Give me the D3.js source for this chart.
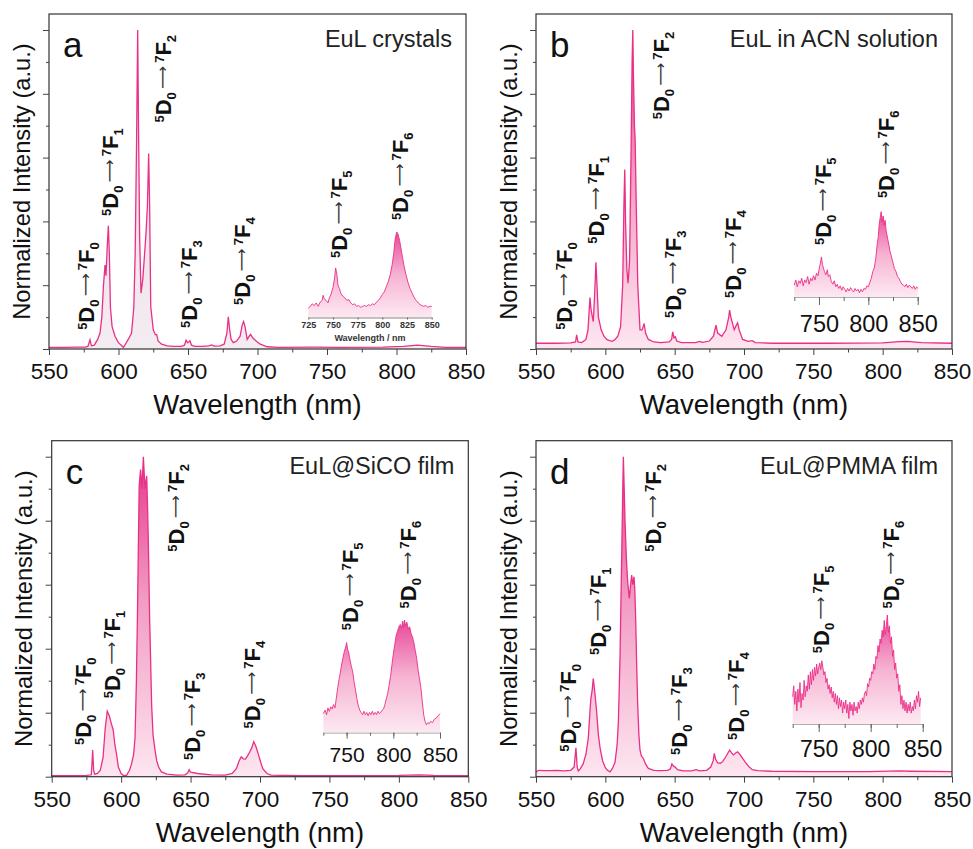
<!DOCTYPE html>
<html>
<head>
<meta charset="utf-8">
<title>EuL emission spectra</title>
<script src="https://d3js.org/d3.v7.min.js"></script>
<style>
  body { margin: 0; background: #fff; }
  svg { font-family: "Liberation Sans", Arial, sans-serif; }
</style>
</head>
<body>
<svg width="973" height="849"></svg>
<script>
// ---- data: [wavelength nm, normalized intensity] ----
const specCrystal = [[550,0.005],[560,0.005],[570,0.006],[576,0.006],[578,0.008],[579.5,0.029],[580.5,0.01],[582.6,0.012],[585,0.03],[586.7,0.05],[588,0.1],[589.2,0.2],[590.3,0.263],[591,0.23],[592,0.33],[592.7,0.386],[593.4,0.3],[594.2,0.13],[595.4,0.07],[597.5,0.04],[599.9,0.02],[602.4,0.01],[603.5,0.005],[605,0.015],[607,0.03],[609.4,0.05],[611,0.13],[612,0.3],[613,0.65],[613.8,1.0],[614.4,0.7],[615.2,0.35],[616.2,0.175],[617.5,0.22],[618.8,0.3],[619.8,0.364],[620.8,0.45],[621.7,0.613],[622.4,0.45],[623.2,0.133],[625,0.06],[626.5,0.045],[627.5,0.045],[628.5,0.025],[631,0.015],[635,0.01],[640,0.008],[645,0.008],[647.5,0.012],[648.6,0.028],[649.6,0.02],[650.6,0.022],[651.4,0.026],[652.5,0.012],[655,0.008],[660,0.008],[665,0.01],[667,0.013],[669,0.009],[673,0.01],[676,0.015],[678,0.05],[679,0.101],[680,0.06],[681,0.03],[682.6,0.02],[685,0.025],[687.5,0.04],[689,0.075],[690,0.086],[691,0.07],[692.6,0.03],[694,0.04],[695.1,0.046],[696.5,0.035],[699,0.025],[702,0.015],[707,0.007],[715,0.005],[740,0.006],[760,0.005],[790,0.006],[805,0.008],[815,0.012],[825,0.008],[835,0.005],[850,0.005]];
const specSolution = [[550,0.018],[565,0.018],[575,0.019],[578.5,0.022],[579.3,0.044],[580.2,0.022],[583,0.02],[586,0.03],[587.5,0.06],[588.9,0.161],[589.8,0.12],[591.3,0.086],[592.3,0.17],[593.2,0.272],[594,0.2],[595,0.1],[597,0.06],[599,0.04],[601,0.03],[603,0.026],[605,0.024],[607,0.03],[609,0.04],[611,0.07],[612.5,0.2],[613.4,0.45],[614,0.563],[614.6,0.4],[615.5,0.25],[616.4,0.206],[617.5,0.28],[618.5,0.6],[619.3,0.9],[619.8,1.0],[620.3,0.85],[621,0.7],[621.5,0.655],[622.3,0.45],[623.4,0.2],[625,0.06],[626.5,0.06],[628,0.08],[629,0.05],[631,0.03],[635,0.022],[640,0.02],[646,0.022],[647.8,0.03],[648.6,0.054],[649.5,0.035],[650.5,0.038],[651.5,0.025],[655,0.02],[665,0.02],[668,0.024],[670,0.021],[675,0.025],[678,0.04],[679.8,0.075],[681,0.05],[684,0.04],[687,0.06],[689,0.1],[689.6,0.122],[690.5,0.1],[693,0.06],[694.5,0.075],[695.4,0.082],[696.5,0.06],[699,0.03],[703,0.024],[706,0.026],[708,0.02],[720,0.018],[760,0.018],[800,0.019],[812,0.023],[818,0.024],[828,0.02],[850,0.018]];
const specSiCO = [[550,0.003],[575,0.004],[578.5,0.006],[579,0.04],[579.5,0.083],[580.2,0.02],[581,0.008],[583,0.01],[585,0.02],[587,0.06],[588.5,0.15],[590,0.205],[591.5,0.19],[593,0.165],[594.3,0.146],[595.5,0.1],[596.7,0.07],[598,0.03],[600,0.01],[602,0.003],[604,0.005],[606,0.02],[607.5,0.04],[609,0.07],[610,0.12],[611,0.3],[611.7,0.49],[612.5,0.75],[613,0.91],[614,0.96],[615,0.9],[616,1.0],[617.2,0.9],[618.4,0.94],[619,0.85],[619.6,0.73],[620.5,0.5],[621.3,0.35],[622,0.22],[623,0.13],[624.5,0.08],[625.6,0.05],[627,0.03],[629,0.015],[633,0.008],[640,0.005],[646,0.006],[648,0.012],[649,0.022],[650,0.014],[655,0.01],[665,0.006],[675,0.005],[680,0.01],[683,0.025],[685,0.05],[686.5,0.062],[688,0.056],[689.5,0.055],[691,0.065],[692.6,0.077],[694,0.09],[695.5,0.109],[697,0.095],[698.6,0.073],[700.5,0.045],[702,0.025],[705,0.01],[708,0.005],[730,0.003],[800,0.004],[815,0.006],[825,0.004],[850,0.003]];
const specPMMA = [[550,0.015],[552,0.02],[556,0.019],[560,0.019],[565,0.02],[570,0.018],[575,0.02],[577.5,0.03],[578.8,0.09],[579.7,0.03],[580.5,0.018],[582,0.025],[584,0.04],[586,0.07],[587.7,0.12],[589,0.21],[589.6,0.245],[590.5,0.27],[591.3,0.307],[592.5,0.26],[593.8,0.2],[595,0.13],[596.2,0.09],[598,0.05],[599.8,0.03],[601.5,0.02],[603.4,0.015],[605,0.025],[607,0.045],[608.5,0.1],[609.4,0.17],[610.6,0.375],[611.8,0.69],[612.5,0.88],[613,1.0],[613.6,0.9],[614.2,0.8],[615.2,0.68],[616.1,0.61],[617.3,0.557],[618.2,0.6],[619,0.63],[619.8,0.6],[620.7,0.625],[621.3,0.58],[621.9,0.49],[622.6,0.35],[623.3,0.23],[624.2,0.13],[625,0.084],[626,0.065],[627.4,0.057],[629,0.04],[631,0.026],[635,0.02],[640,0.019],[645,0.02],[647,0.025],[648,0.04],[649.3,0.032],[650.4,0.03],[652,0.022],[656,0.018],[662,0.018],[665.5,0.022],[668,0.018],[673,0.02],[676,0.03],[677.8,0.05],[678.6,0.073],[679.5,0.055],[681,0.043],[683,0.042],[684.6,0.047],[687,0.063],[688.5,0.075],[689.6,0.083],[691,0.075],[692.3,0.068],[694,0.074],[695.4,0.078],[697,0.07],[699,0.057],[701,0.045],[703.8,0.03],[706,0.022],[709.8,0.019],[720,0.017],[750,0.016],[790,0.016],[812,0.018],[820,0.017],[850,0.016]];

// insets, 725-850 nm, scaled to own maximum
const insetCrystal = [[725,0.11],[727,0.13],[729,0.16],[731,0.14],[733,0.17],[735,0.13],[737,0.18],[739,0.2],[740,0.26],[741,0.22],[743,0.2],[745,0.17],[746,0.22],[748,0.27],[750,0.35],[751.5,0.45],[752.7,0.58],[754,0.5],[755,0.38],[756.5,0.34],[758,0.28],[760,0.25],[762,0.23],[764,0.2],[766,0.21],[768,0.17],[770,0.15],[772,0.16],[774,0.13],[776,0.14],[778,0.12],[780,0.13],[782,0.14],[784,0.13],[786,0.15],[788,0.14],[790,0.16],[792,0.15],[794,0.18],[796,0.2],[798,0.23],[800,0.27],[802,0.3],[804,0.36],[806,0.42],[808,0.5],[810,0.62],[811.5,0.75],[813,0.92],[814.6,1.0],[816,0.97],[817.5,0.9],[819,0.8],[820.5,0.7],[822,0.6],[824,0.5],[826,0.41],[828,0.34],[830,0.29],[832,0.24],[834,0.2],[836,0.18],[838,0.15],[840,0.14],[842,0.13],[844,0.14],[846,0.12],[848,0.13],[850,0.13]];
const insetSolution = [[725,0.14],[726.5,0.2],[728,0.12],[729.5,0.19],[731,0.16],[732.5,0.22],[734,0.13],[735.5,0.2],[737,0.17],[738.5,0.24],[740,0.15],[741.5,0.22],[743,0.19],[744.5,0.25],[746,0.2],[747.5,0.28],[749,0.25],[750.5,0.35],[751.5,0.4],[752.5,0.47],[753.5,0.38],[754.5,0.34],[755.5,0.3],[757,0.26],[758.5,0.32],[759.5,0.24],[761,0.26],[762.5,0.18],[764,0.15],[765.5,0.19],[767,0.12],[768.5,0.15],[770,0.1],[771.5,0.13],[773,0.08],[774.5,0.12],[776,0.09],[777.5,0.06],[779,0.1],[780.5,0.07],[782,0.11],[783.5,0.08],[785,0.06],[786.5,0.1],[788,0.07],[789.5,0.09],[791,0.05],[792.5,0.09],[794,0.06],[795.5,0.1],[797,0.09],[798.5,0.13],[800,0.12],[801.5,0.17],[803,0.22],[804.5,0.3],[806,0.34],[807.5,0.45],[809,0.62],[810,0.7],[811,0.85],[812,0.93],[813,1.0],[814,0.88],[815,0.95],[816,0.84],[817,0.9],[818,0.78],[819,0.72],[820,0.66],[821,0.6],[822,0.53],[823.5,0.47],[825,0.4],[826.5,0.33],[828,0.3],[829.5,0.24],[831,0.22],[832.5,0.18],[834,0.15],[835.5,0.14],[837,0.12],[838.5,0.15],[840,0.11],[841.5,0.14],[843,0.12],[844.5,0.1],[846,0.13],[847.5,0.09],[849,0.12],[850,0.1]];
const insetSiCO = [[725,0.17],[727,0.2],[728.5,0.16],[730,0.22],[731.5,0.19],[733,0.23],[734.5,0.21],[736,0.25],[737.5,0.22],[739,0.31],[740.5,0.4],[742,0.48],[743,0.52],[744.5,0.6],[746,0.66],[747.5,0.72],[749,0.76],[750,0.8],[751,0.74],[752,0.72],[753.5,0.65],[755,0.59],[756.5,0.54],[758,0.45],[759.5,0.38],[761,0.3],[762.5,0.24],[764,0.2],[765.5,0.18],[767,0.16],[768.5,0.19],[770,0.16],[771.5,0.18],[773,0.15],[774.5,0.18],[776,0.16],[777.5,0.19],[779,0.16],[780.5,0.18],[782,0.16],[783.5,0.19],[785,0.17],[786.5,0.18],[788,0.2],[789.5,0.21],[791,0.25],[792.5,0.3],[794,0.35],[795.5,0.42],[797,0.5],[798.5,0.6],[800,0.7],[801.5,0.78],[803,0.86],[804.5,0.9],[806,0.94],[807.5,0.96],[809,0.93],[810,0.99],[811,0.94],[812,1.0],[813,0.95],[814.5,0.98],[816,0.92],[817.5,0.94],[819,0.88],[820.5,0.85],[822,0.8],[823.5,0.73],[825,0.66],[826.5,0.56],[828,0.48],[829.5,0.4],[831,0.28],[832.5,0.16],[834,0.1],[835.5,0.07],[837,0.09],[838.5,0.08],[840,0.1],[842,0.09],[844,0.12],[846,0.13],[848,0.15],[850,0.17]];
const insetPMMA = [[725,0.25],[726,0.35],[727,0.18],[728,0.3],[729,0.12],[730,0.32],[731,0.2],[732,0.38],[733,0.15],[734,0.28],[735,0.22],[736,0.4],[737,0.25],[738,0.35],[739,0.3],[740,0.45],[741,0.32],[742,0.48],[743,0.36],[744,0.5],[745,0.4],[746,0.52],[747,0.44],[748,0.55],[749,0.46],[750,0.52],[751,0.56],[752,0.5],[753,0.58],[754,0.52],[755,0.45],[756,0.48],[757,0.38],[758,0.42],[759,0.32],[760,0.36],[761,0.28],[762,0.34],[763,0.24],[764,0.3],[765,0.2],[766,0.28],[767,0.18],[768,0.26],[769,0.14],[770,0.24],[771,0.16],[772,0.22],[773,0.1],[774,0.2],[775,0.14],[776,0.22],[777,0.1],[778,0.18],[779,0.05],[780,0.2],[781,0.12],[782,0.18],[783,0.08],[784,0.2],[785,0.12],[786,0.16],[787,0.1],[788,0.2],[789,0.14],[790,0.22],[791,0.18],[792,0.24],[793,0.2],[794,0.28],[795,0.3],[796,0.26],[797,0.37],[798,0.34],[799,0.42],[800,0.4],[801,0.48],[802,0.46],[803,0.55],[804,0.5],[805,0.62],[806,0.6],[807,0.72],[808,0.66],[809,0.78],[810,0.74],[811,0.86],[812,0.8],[813,0.95],[814,0.82],[815,0.9],[816,1.0],[817,0.84],[818,0.9],[819,0.74],[820,0.8],[821,0.62],[822,0.68],[823,0.5],[824,0.56],[825,0.42],[826,0.46],[827,0.3],[828,0.36],[829,0.18],[830,0.26],[831,0.14],[832,0.22],[833,0.12],[834,0.2],[835,0.1],[836,0.18],[837,0.12],[838,0.2],[839,0.1],[840,0.16],[841,0.12],[842,0.22],[843,0.14],[844,0.26],[845,0.2],[846,0.3],[847,0.16],[848,0.24]];

// transition labels 5D0 -> 7FJ: [wavelength, intensity at label start]
const transitions = ["0", "1", "2", "3", "4", "5", "6"];
const labelsCrystal = [[576.6,0.06],[594,0.417],[632,0.71],[651,0.066],[689,0.138],[758.6,0.285],[802.5,0.404]];
const labelsSolution = [[570.4,0.06],[593.3,0.33],[640,0.72],[648.6,0.097],[691.8,0.16],[756.7,0.326],[802.3,0.473]];
const labelsSiCO = [[572.8,0.099],[593.2,0.245],[639.3,0.703],[650.8,0.052],[694,0.151],[764.8,0.458],[806.7,0.526]];
const labelsPMMA = [[572.8,0.078],[594.5,0.38],[634.1,0.703],[653.3,0.068],[694.2,0.115],[755.5,0.386],[806,0.526]];

const xTicks = [550, 600, 650, 700, 750, 800, 850];
const insetTicks = [725, 750, 775, 800, 825, 850];
const insetLabelTicks = [750, 800, 850];

const pink = "#ea2f86";
const svg = d3.select("svg");
const defs = svg.append("defs");

const panels = [
  { key: "a", title: "EuL crystals", spec: specCrystal, inset: insetCrystal, labels: labelsCrystal,
    box: [49, 466, 14, 349], unit: 319, flat: true,
    ins: { x0: 308.3, x1: 431.7, y0: 317.5, top: 232, small: true } },
  { key: "b", title: "EuL in ACN solution", spec: specSolution, inset: insetSolution, labels: labelsSolution,
    box: [536, 952, 14, 349], unit: 319,
    ins: { x0: 794.3, x1: 917.7, y0: 297, top: 211.7, font: 23.5, tick: 8, pad: 10 } },
  { key: "c", title: "EuL@SiCO film", spec: specSiCO, inset: insetSiCO, labels: labelsSiCO,
    box: [51.7, 468.3, 440.7, 776.7], unit: 320,
    ins: { x0: 323.3, x1: 440, y0: 732.7, top: 620, font: 21, tick: 6, pad: 8 } },
  { key: "d", title: "EuL@PMMA film", spec: specPMMA, inset: insetPMMA, labels: labelsPMMA,
    box: [536, 952, 440.7, 776.7], unit: 320,
    ins: { x0: 792.7, x1: 922.7, y0: 724, top: 615, font: 23, tick: 8, pad: 9 } }
];

function gradient(id, yTop, yBot, stops) {
  const g = defs.append("linearGradient").attr("id", id)
    .attr("gradientUnits", "userSpaceOnUse")
    .attr("x1", 0).attr("x2", 0).attr("y1", yTop).attr("y2", yBot);
  stops.forEach(s => g.append("stop").attr("offset", s[0]).attr("stop-color", s[1]));
}

function addLabel(g, x, y, n) {
  const t = g.append("text")
    .attr("transform", `translate(${x},${y}) rotate(-90)`)
    .attr("fill", "#111").attr("font-weight", "bold");
  t.append("tspan").attr("font-size", 13).attr("dy", -7).text("5");
  t.append("tspan").attr("font-size", 22).attr("dy", 7).text("D");
  t.append("tspan").attr("font-size", 13).attr("dy", 5).text("0");
  // long thin arrow, centred on the capitals
  t.append("tspan").attr("font-size", 16).attr("font-weight", "normal").attr("fill", "#333")
    .style("font-family", "'DejaVu Sans', sans-serif")
    .attr("dy", -8).text("\u2009\u27F6\u2009");
  t.append("tspan").attr("font-size", 13).attr("dy", -4).text("7");
  t.append("tspan").attr("font-size", 22).attr("dy", 7).text("F");
  t.append("tspan").attr("font-size", 13).attr("dy", 5).text(n);
}

panels.forEach(p => {
  const [x0, x1, y0, y1] = p.box;
  const x = d3.scaleLinear().domain([550, 850]).range([x0, x1]);
  const y = d3.scaleLinear().domain([0, 1]).range([y1, y1 - p.unit]);
  const g = svg.append("g");

  // spectrum fill + line
  gradient("g" + p.key, y(1), y(0), p.flat
    ? [[0, "#eadbe3"], [1, "#f3ecf0"]]
    : [[0, "#e6398a"], [0.45, "#f29cc3"], [1, "#fde6f0"]]);
  const area = d3.area().x(d => x(d[0])).y0(y(0)).y1(d => y(d[1]));
  const line = d3.line().x(d => x(d[0])).y(d => y(d[1]));
  g.append("path").datum(p.spec).attr("d", area).attr("fill", `url(#g${p.key})`);
  g.append("path").datum(p.spec).attr("d", line)
    .attr("fill", "none").attr("stroke", pink).attr("stroke-width", 1.3);

  // frame
  g.append("rect").attr("x", x0).attr("y", y0).attr("width", x1 - x0).attr("height", y1 - y0)
    .attr("fill", "none").attr("stroke", "#333").attr("stroke-width", 1.2);

  // x axis
  const xa = g.append("g").attr("transform", `translate(0,${y1})`)
    .call(d3.axisBottom(x).tickValues(xTicks).tickSize(6).tickPadding(8).tickSizeOuter(0));
  xa.select(".domain").remove();
  xa.selectAll("text").attr("font-size", 22.5).attr("fill", "#111")
    .style("font-family", "'Liberation Sans', Arial, sans-serif");
  xa.selectAll("line").attr("stroke", "#444");
  const xm = g.append("g").attr("transform", `translate(0,${y1})`)
    .call(d3.axisBottom(x).tickValues(d3.range(575, 850, 50)).tickSize(3.5).tickFormat(""));
  xm.select(".domain").remove();
  xm.selectAll("line").attr("stroke", "#444");

  // y axis (no labels)
  const ya = g.append("g").attr("transform", `translate(${x0},0)`)
    .call(d3.axisLeft(y).tickValues([0, 0.2, 0.4, 0.6, 0.8, 1.0]).tickSize(6).tickFormat(""));
  ya.select(".domain").remove();
  ya.selectAll("line").attr("stroke", "#444");
  const ym = g.append("g").attr("transform", `translate(${x0},0)`)
    .call(d3.axisLeft(y).tickValues([0.1, 0.3, 0.5, 0.7, 0.9]).tickSize(3).tickFormat(""));
  ym.select(".domain").remove();
  ym.selectAll("line").attr("stroke", "#444");

  // axis titles
  g.append("text").attr("x", (x0 + x1) / 2).attr("y", y1 + 65)
    .attr("text-anchor", "middle").attr("font-size", 27.5).attr("fill", "#111")
    .text("Wavelength (nm)");
  g.append("text").attr("transform", `translate(${x0 - 19.5},${(y0 + y1) / 2}) rotate(-90)`)
    .attr("text-anchor", "middle").attr("font-size", 23.7).attr("fill", "#111")
    .text("Normalized Intensity (a.u.)");

  // panel letter and title
  g.append("text").attr("x", x0 + 14).attr("y", y0 + 43).attr("font-size", 35).attr("fill", "#111")
    .text(p.key);
  g.append("text").attr("x", x1 - 14).attr("y", y0 + 33).attr("text-anchor", "end")
    .attr("font-size", 23.5).attr("fill", "#222").text(p.title);

  // inset
  const q = p.ins;
  const ix = d3.scaleLinear().domain([725, 850]).range([q.x0, q.x1]);
  const iy = d3.scaleLinear().domain([0, 1]).range([q.y0, q.top]);
  gradient("i" + p.key, q.top, q.y0, [[0, "#e8489a"], [0.5, "#f6b3d2"], [1, "#fde9f2"]]);
  g.append("path").datum(p.inset)
    .attr("d", d3.area().x(d => ix(d[0])).y0(iy(0)).y1(d => iy(d[1])))
    .attr("fill", `url(#i${p.key})`);
  g.append("path").datum(p.inset)
    .attr("d", d3.line().x(d => ix(d[0])).y(d => iy(d[1])))
    .attr("fill", "none").attr("stroke", pink).attr("stroke-width", 0.9);

  if (q.small) {
    const ia = g.append("g").attr("transform", `translate(0,${q.y0})`)
      .call(d3.axisBottom(ix).tickValues(insetTicks).tickSize(2).tickPadding(2).tickSizeOuter(0));
    ia.select(".domain").attr("stroke", "#888");
    ia.selectAll("line").attr("stroke", "#666");
    ia.selectAll("text").attr("font-size", 9).attr("font-weight", "bold").attr("fill", "#333")
      .style("font-family", "'Liberation Sans', Arial, sans-serif");
    g.append("text").attr("x", (q.x0 + q.x1) / 2).attr("y", q.y0 + 23)
      .attr("text-anchor", "middle").attr("font-size", 9).attr("font-weight", "bold")
      .attr("fill", "#333").text("Wavelength / nm");
  } else {
    const im = g.append("g").attr("transform", `translate(0,${q.y0})`)
      .call(d3.axisBottom(ix).tickValues(insetTicks).tickSize(q.tick / 2).tickFormat("").tickSizeOuter(0));
    im.select(".domain").attr("stroke", "#999").attr("stroke-width", 0.8);
    im.selectAll("line").attr("stroke", "#666");
    const ia = g.append("g").attr("transform", `translate(0,${q.y0})`)
      .call(d3.axisBottom(ix).tickValues(insetLabelTicks).tickSize(q.tick).tickPadding(q.pad));
    ia.select(".domain").remove();
    ia.selectAll("line").attr("stroke", "#666");
    ia.selectAll("text").attr("font-size", q.font).attr("fill", "#111")
      .style("font-family", "'Liberation Sans', Arial, sans-serif");
  }

  // transition labels
  p.labels.forEach((l, i) => addLabel(g, x(l[0]) + 8, y(l[1]), transitions[i]));
});
</script>
</body>
</html>
